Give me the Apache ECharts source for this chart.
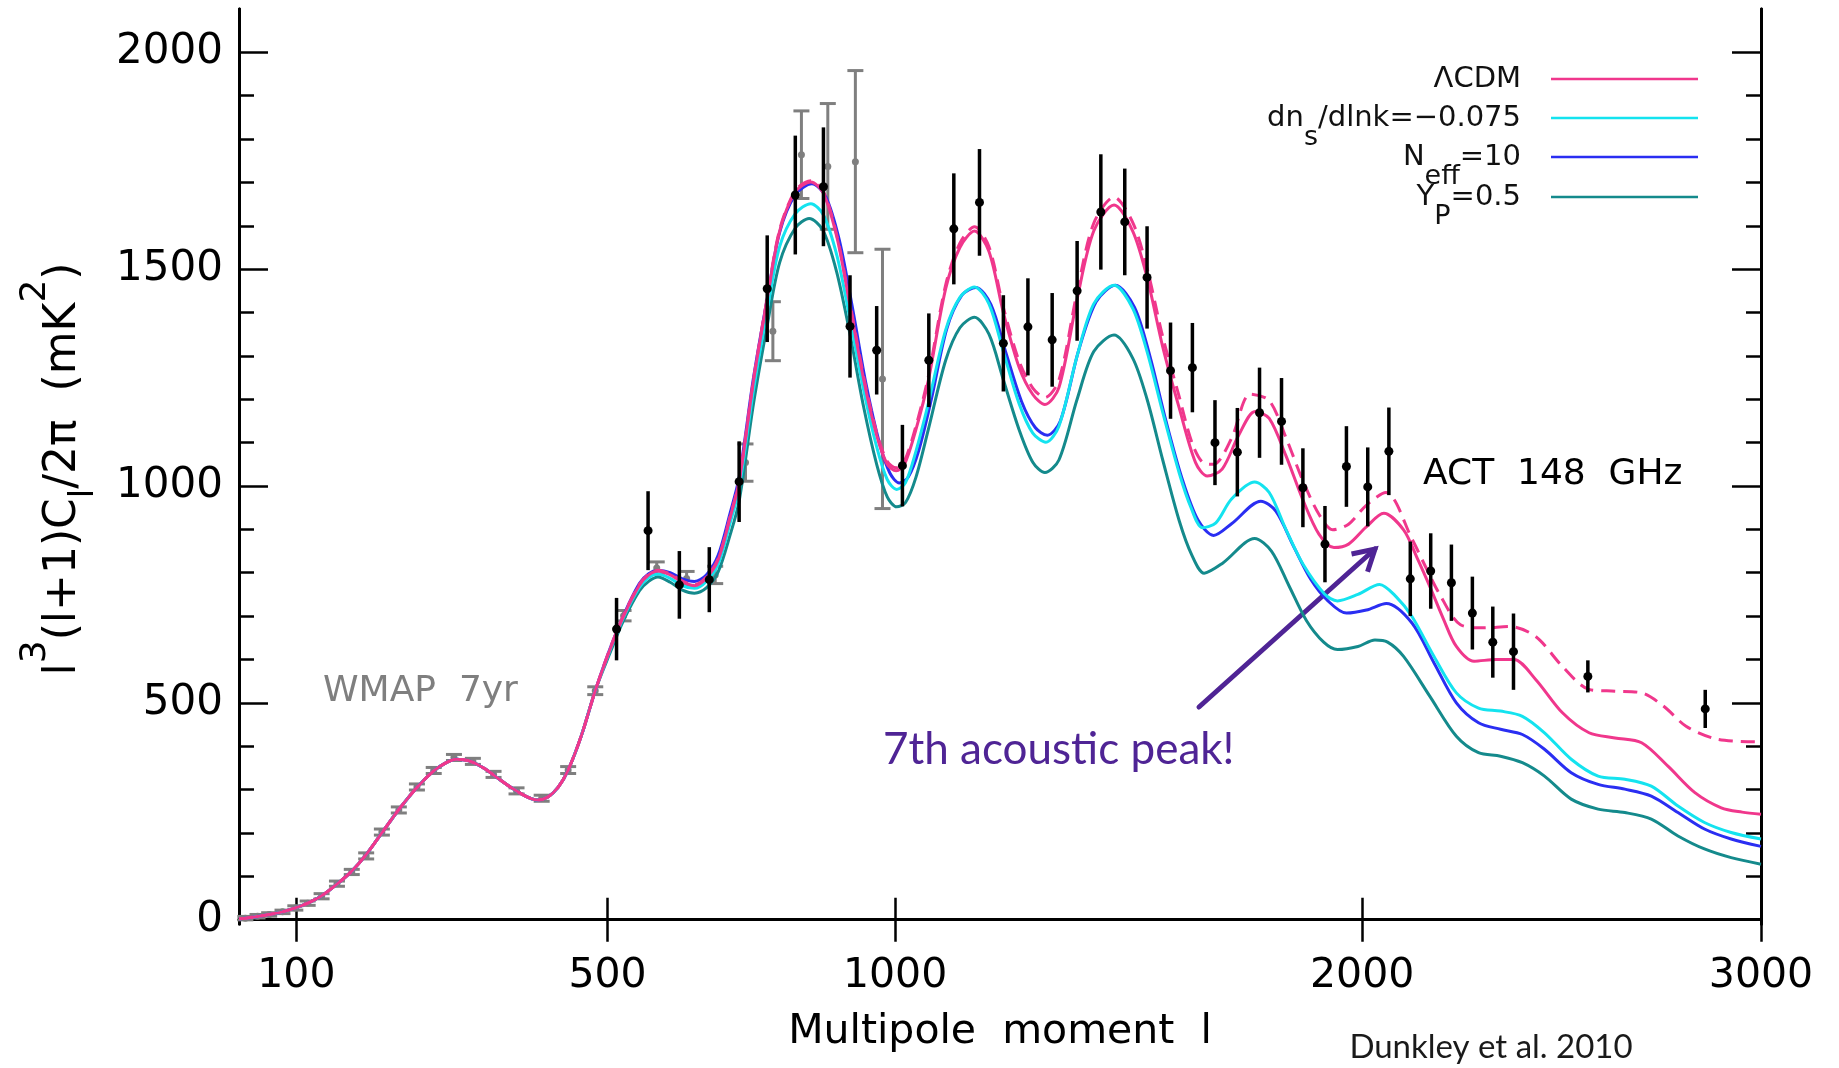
<!DOCTYPE html>
<html>
<head>
<meta charset="utf-8">
<title>ACT 148 GHz power spectrum</title>
<script src="https://cdn.jsdelivr.net/npm/echarts@6/dist/echarts.min.js"></script>
<style>
  html, body { margin: 0; padding: 0; background: #fff; }
  #chart { width: 1839px; height: 1068px; }
</style>
</head>
<body>
<div id="chart"></div>
<script>
// x axis is drawn in l^0.7 space (that is how the original plot stretches multipoles)
var POW = 0.7;
function sx(l) { return Math.pow(l, POW); }

var xTickVals = [100, 500, 1000, 2000, 3000];
var yMajorVals = [0, 500, 1000, 1500, 2000];
var yMinorVals = [100, 200, 300, 400, 600, 700, 800, 900, 1100, 1200, 1300, 1400, 1600, 1700, 1800, 1900];

// all four models coincide below l ~ 500
var modelLow = [[50, 2], [55, 3.5], [65, 7.5], [75, 12], [87, 18], [99, 27], [111, 38], [125, 55], [141, 82],
  [157, 112], [173, 150], [191, 200], [211, 254], [233, 305], [254, 343], [270, 362], [283, 370], [300, 366],
  [320, 349], [340, 325], [360, 302], [380, 283], [395, 276], [410, 283], [425, 305], [440, 345], [460, 425], [481, 528]];

var lcdmHigh = [[503, 620], [525, 700], [550, 771], [565, 795], [580, 804], [600, 795], [620, 779], [640, 770],
  [660, 788], [680, 830], [700, 925], [716, 1010], [741, 1243], [765, 1431], [787, 1588], [815, 1678], [843, 1701],
  [866, 1675], [891, 1572], [915, 1416], [941, 1243], [965, 1117], [985, 1050], [1002, 1035], [1018, 1050],
  [1040, 1130], [1064, 1243], [1098, 1455], [1126, 1550], [1155, 1588], [1184, 1541], [1213, 1400], [1245, 1274],
  [1273, 1211], [1298, 1188], [1327, 1227], [1365, 1431], [1400, 1588], [1443, 1648], [1483, 1588], [1514, 1481],
  [1548, 1321], [1584, 1180], [1620, 1054], [1646, 1023], [1679, 1039], [1716, 1117], [1753, 1172], [1785, 1156],
  [1823, 1070], [1862, 968], [1899, 889], [1934, 858], [1968, 866], [2009, 905], [2051, 937], [2098, 899],
  [2130, 835], [2161, 768], [2193, 695], [2225, 630], [2268, 596], [2322, 600], [2366, 600], [2420, 554],
  [2487, 477], [2554, 431], [2620, 419], [2688, 408], [2756, 354], [2826, 293], [2895, 258], [2950, 248], [3000, 243]];

var lcdmFgHigh = [[503, 622], [525, 702], [550, 773], [565, 797], [580, 806], [600, 797], [620, 781], [640, 772],
  [660, 790], [680, 832], [700, 927], [716, 1012], [741, 1246], [765, 1434], [787, 1591], [815, 1681], [843, 1704],
  [866, 1679], [891, 1576], [915, 1421], [941, 1249], [965, 1123], [985, 1057], [1002, 1042], [1018, 1058],
  [1040, 1138], [1064, 1252], [1098, 1464], [1126, 1560], [1155, 1598], [1184, 1552], [1213, 1412], [1245, 1288],
  [1273, 1226], [1298, 1204], [1327, 1244], [1365, 1448], [1400, 1606], [1443, 1666], [1483, 1608], [1514, 1502],
  [1548, 1344], [1584, 1206], [1612, 1100], [1635, 1055], [1660, 1050], [1700, 1110], [1742, 1212], [1785, 1197],
  [1823, 1112], [1862, 1012], [1899, 935], [1931, 899], [1968, 912], [2009, 955], [2056, 985], [2119, 876],
  [2150, 815], [2183, 753], [2235, 680], [2292, 673], [2355, 676], [2420, 653], [2487, 584], [2554, 531],
  [2620, 527], [2688, 523], [2745, 492], [2803, 446], [2872, 419], [2925, 412], [3000, 410]];

var runningHigh = [[503, 618], [525, 697], [550, 766], [565, 789], [580, 797], [600, 787], [620, 770], [640, 764],
  [660, 780], [680, 820], [700, 912], [716, 995], [741, 1222], [765, 1405], [787, 1552], [815, 1628], [843, 1651],
  [866, 1625], [891, 1530], [915, 1385], [941, 1218], [965, 1090], [985, 1015], [1003, 992], [1020, 1008],
  [1040, 1080], [1064, 1190], [1098, 1360], [1126, 1435], [1155, 1459], [1184, 1420], [1213, 1310], [1245, 1190],
  [1273, 1122], [1300, 1101], [1327, 1138], [1365, 1300], [1400, 1420], [1443, 1463], [1483, 1410], [1514, 1310],
  [1548, 1170], [1584, 1030], [1610, 950], [1635, 904], [1665, 915], [1700, 970], [1752, 1009], [1785, 985],
  [1823, 900], [1862, 820], [1912, 751], [1942, 735], [1990, 750], [2041, 773], [2080, 745], [2118, 699],
  [2171, 607], [2225, 523], [2279, 488], [2333, 481], [2387, 469], [2442, 431], [2509, 370], [2577, 331],
  [2645, 324], [2713, 308], [2782, 262], [2851, 224], [2921, 201], [3000, 186]];

var neffHigh = [[503, 622], [525, 702], [550, 775], [565, 798], [580, 805], [600, 800], [620, 786], [640, 780],
  [660, 795], [680, 840], [700, 935], [716, 1020], [741, 1250], [765, 1432], [787, 1585], [815, 1672], [845, 1697],
  [870, 1668], [895, 1568], [920, 1408], [945, 1235], [970, 1100], [990, 1030], [1008, 1007], [1025, 1020],
  [1045, 1080], [1070, 1200], [1100, 1362], [1130, 1440], [1158, 1458], [1188, 1418], [1218, 1308], [1250, 1195],
  [1278, 1135], [1303, 1117], [1330, 1150], [1368, 1312], [1405, 1425], [1446, 1463], [1487, 1412], [1520, 1300],
  [1555, 1150], [1590, 1018], [1625, 922], [1660, 886], [1700, 913], [1766, 965], [1800, 942], [1840, 862],
  [1880, 785], [1920, 735], [1963, 707], [2010, 714], [2057, 729], [2118, 684], [2171, 592], [2225, 500],
  [2279, 454], [2333, 439], [2387, 427], [2442, 393], [2509, 339], [2577, 312], [2645, 301], [2713, 285],
  [2782, 247], [2851, 209], [2921, 186], [3000, 169]];

var heliumHigh = [[503, 612], [525, 690], [550, 758], [565, 780], [580, 790], [600, 778], [620, 760], [640, 753],
  [660, 765], [680, 802], [700, 885], [716, 965], [741, 1190], [765, 1370], [787, 1515], [815, 1595], [840, 1617],
  [865, 1590], [890, 1495], [915, 1350], [940, 1185], [965, 1050], [985, 975], [1003, 952], [1020, 962],
  [1040, 1020], [1064, 1130], [1098, 1290], [1126, 1365], [1155, 1389], [1184, 1350], [1213, 1245], [1245, 1130],
  [1273, 1055], [1298, 1031], [1327, 1060], [1365, 1200], [1400, 1310], [1443, 1348], [1483, 1295], [1514, 1200],
  [1548, 1060], [1584, 920], [1612, 840], [1639, 799], [1680, 822], [1752, 879], [1790, 850], [1830, 770],
  [1870, 690], [1910, 640], [1942, 623], [1990, 630], [2030, 645], [2060, 640], [2098, 607], [2161, 515],
  [2225, 423], [2279, 385], [2333, 377], [2387, 362], [2442, 331], [2509, 278], [2577, 255], [2645, 247],
  [2713, 232], [2782, 193], [2851, 163], [2921, 143], [3000, 128]];

// [l, value, error]
var wmapPts = [[55, 3.5, 4], [65, 8, 4], [75, 12, 4], [87, 18, 4], [99, 27, 5], [111, 38, 5], [125, 54, 6],
  [141, 83, 6], [157, 110, 6], [173, 147, 7], [191, 202, 7], [211, 253, 7], [233, 306, 7], [254, 344, 7],
  [280, 374, 7], [305, 365, 7], [333, 335, 7], [365, 297, 7], [401, 280, 7], [440, 345, 8], [481, 528, 9],
  [525, 701, 12], [578, 811, 14], [627, 787, 16], [675, 795, 20], [727, 1054, 43], [775, 1357, 68],
  [826, 1764, 101], [874, 1737, 145], [925, 1748, 210], [976, 1247, 299]];

var actPts = [[514, 670, 72], [564, 897, 91], [615, 772, 78], [665, 784, 75], [716, 1010, 93], [765, 1455, 123],
  [815, 1671, 137], [866, 1690, 137], [915, 1368, 118], [965, 1313, 102], [1014, 1047, 94], [1065, 1290, 108],
  [1114, 1593, 128], [1165, 1654, 123], [1213, 1329, 111], [1263, 1367, 112], [1313, 1337, 108], [1365, 1450, 115],
  [1415, 1632, 133], [1466, 1609, 123], [1514, 1481, 118], [1565, 1266, 111], [1613, 1273, 103], [1663, 1100, 98],
  [1713, 1078, 102], [1763, 1169, 104], [1813, 1149, 100], [1862, 996, 91], [1913, 866, 88], [1963, 1045, 93],
  [2013, 998, 91], [2063, 1080, 101], [2114, 786, 86], [2163, 804, 87], [2213, 777, 88], [2264, 707, 84],
  [2314, 640, 82], [2365, 618, 88], [2551, 561, 37], [2853, 486, 44]];

var PINK = '#f0378c', CYAN = '#14e3ef', BLUE = '#2a2ef2', TEAL = '#148a8c', GREY = '#7f7f7f', PURPLE = '#4f2495';
var FONT = 'DejaVu Sans';

function curve(high) {
  return modelLow.concat(high).map(function (p) { return [sx(p[0]), p[1]]; });
}
function points(arr) {
  return arr.map(function (p) { return [sx(p[0]), p[1], p[2]]; });
}

function errRender(color, barW, dotR, capHalf) {
  return function (params, api) {
    var x = api.value(0), y = api.value(1), e = api.value(2);
    var c = api.coord([x, y]);
    var hi = api.coord([x, y + e]);
    var lo = api.coord([x, y - e]);
    var kids = [{ type: 'line', shape: { x1: c[0], y1: hi[1], x2: c[0], y2: lo[1] }, style: { stroke: color, lineWidth: barW } }];
    if (capHalf) {
      kids.push({ type: 'line', shape: { x1: c[0] - capHalf, y1: hi[1], x2: c[0] + capHalf, y2: hi[1] }, style: { stroke: color, lineWidth: barW } });
      kids.push({ type: 'line', shape: { x1: c[0] - capHalf, y1: lo[1], x2: c[0] + capHalf, y2: lo[1] }, style: { stroke: color, lineWidth: barW } });
    }
    kids.push({ type: 'circle', shape: { cx: c[0], cy: c[1], r: dotR }, style: { fill: color } });
    return { type: 'group', children: kids };
  };
}

function lineSeries(name, data, color, dashed) {
  return {
    name: name, type: 'line', data: data, smooth: 0.3, showSymbol: false, symbol: 'none',
    lineStyle: { color: color, width: 3, type: dashed ? [14, 8] : 'solid' }, silent: true
  };
}

var axisLineStyle = { show: true, lineStyle: { color: '#000', width: 3 } };

function xAx(pos, labels) {
  return {
    type: 'value', position: pos, min: sx(50), max: sx(3000),
    axisLine: axisLineStyle,
    axisTick: { show: true, inside: true, length: 22, customValues: xTickVals.map(sx), lineStyle: { color: '#000', width: 2.5 } },
    axisLabel: {
      show: labels, customValues: xTickVals.map(sx), margin: 32, color: '#000', fontSize: 41, fontFamily: FONT,
      formatter: function (v) { return String(Math.round(Math.pow(v, 1 / POW))); }
    },
    splitLine: { show: false }
  };
}
function yAx(pos, ticks, len, labels) {
  return {
    type: 'value', position: pos, min: -10, max: 2100,
    axisLine: axisLineStyle,
    axisTick: { show: true, inside: true, length: len, customValues: ticks, lineStyle: { color: '#000', width: 2.5 } },
    axisLabel: {
      show: labels, customValues: ticks, margin: 16, color: '#000', fontSize: 42, fontFamily: FONT,
      formatter: function (v) { return String(v); }
    },
    splitLine: { show: false }
  };
}

// legend drawn by hand: label on the left, line sample on the right
var legendRows = [
  { text: 'ΛCDM', color: PINK, y: 79 },
  { text: '{m|dn}{s|s}{m|/dlnk=−0.075}', color: CYAN, y: 118 },
  { text: '{m|N}{s|eff}{m|=10}', color: BLUE, y: 157 },
  { text: '{m|Y}{s|P}{m|=0.5}', color: TEAL, y: 197 }
];
var legendRich = {
  m: { fontSize: 29, fontFamily: FONT, fill: '#111' },
  s: { fontSize: 27, fontFamily: FONT, fill: '#111', padding: [40, 0, 0, 0] }
};
var graphics = [];
legendRows.forEach(function (r) {
  graphics.push({ type: 'text', x: 1521, y: r.y, style: { text: r.text, fill: '#111', fontSize: 29, fontFamily: FONT, align: 'right', verticalAlign: 'middle', rich: legendRich } });
  graphics.push({ type: 'line', shape: { x1: 1551, y1: r.y, x2: 1698, y2: r.y }, style: { stroke: r.color, lineWidth: 2.5 } });
});

// y axis title, rotated
graphics.push({
  type: 'text', x: 64, y: 469, rotation: Math.PI / 2,
  style: {
    text: '{m|l}{sup|3}{m|(l+1)C}{sub|l}{m|/2π  (mK}{sup|2}{m|)}',
    align: 'center', verticalAlign: 'middle', fill: '#000',
    rich: {
      m: { fontSize: 44, fontFamily: FONT, fill: '#000' },
      sup: { fontSize: 36, fontFamily: FONT, fill: '#000', padding: [0, 0, 56, 0] },
      sub: { fontSize: 34, fontFamily: FONT, fill: '#000', padding: [40, 0, 0, 0] }
    }
  }
});

// x axis title
graphics.push({ type: 'text', x: 1000, y: 1032, style: { text: 'Multipole  moment  l', fill: '#000', fontSize: 41, fontFamily: FONT, align: 'center', verticalAlign: 'middle' } });

graphics.push({ type: 'text', x: 323, y: 692, style: { text: 'WMAP  7yr', fill: GREY, fontSize: 36, fontFamily: FONT, align: 'left', verticalAlign: 'middle' } });
graphics.push({ type: 'text', x: 1423, y: 475, style: { text: 'ACT  148  GHz', fill: '#000', fontSize: 36, fontFamily: FONT, align: 'left', verticalAlign: 'middle' } });
graphics.push({ type: 'text', x: 883, y: 750, style: { text: '7th acoustic peak!', fill: PURPLE, fontSize: 44, fontFamily: 'Lato', align: 'left', verticalAlign: 'middle' } });
graphics.push({ type: 'text', x: 1491, y: 1047, style: { text: 'Dunkley et al. 2010', fill: '#1a1a1a', fontSize: 33, fontFamily: 'Lato', align: 'center', verticalAlign: 'middle' } });

// arrow pointing at the seventh peak
(function () {
  var x0 = 1199, y0 = 707, x1 = 1375, y1 = 549, arm = 24;
  var ang = Math.atan2(y0 - y1, x0 - x1);
  var a1 = ang + Math.PI / 6, a2 = ang - Math.PI / 6;
  graphics.push({ type: 'line', shape: { x1: x0, y1: y0, x2: x1, y2: y1 }, style: { stroke: PURPLE, lineWidth: 5, lineCap: 'round' } });
  graphics.push({
    type: 'polyline',
    shape: { points: [[x1 + arm * Math.cos(a1), y1 + arm * Math.sin(a1)], [x1, y1], [x1 + arm * Math.cos(a2), y1 + arm * Math.sin(a2)]] },
    style: { stroke: PURPLE, lineWidth: 5, fill: null, lineJoin: 'miter' }
  });
})();

var chart = echarts.init(document.getElementById('chart'), null, { renderer: 'canvas' });
chart.setOption({
  backgroundColor: '#fff',
  animation: false,
  grid: { left: 239, right: 78, top: 9, bottom: 144, containLabel: false, outerBoundsMode: 'none' },
  xAxis: [xAx('bottom', true), xAx('top', false)],
  yAxis: [
    yAx('left', yMajorVals, 29, true),
    yAx('left', yMinorVals, 15, false),
    yAx('right', yMajorVals, 29, false),
    yAx('right', yMinorVals, 15, false)
  ],
  series: [
    lineSeries('Y_P=0.5', curve(heliumHigh), TEAL),
    lineSeries('N_eff=10', curve(neffHigh), BLUE),
    lineSeries('dn_s/dlnk=-0.075', curve(runningHigh), CYAN),
    lineSeries('LCDM', curve(lcdmHigh), PINK),
    lineSeries('LCDM + foregrounds', curve(lcdmFgHigh), PINK, true),
    { name: 'WMAP 7yr', type: 'custom', renderItem: errRender(GREY, 3, 3.5, 8), data: points(wmapPts), silent: true, z: 3 },
    { name: 'ACT 148 GHz', type: 'custom', renderItem: errRender('#000', 3.5, 4.5, 0), data: points(actPts), silent: true, z: 4 }
  ],
  graphic: graphics
});
</script>
</body>
</html>
